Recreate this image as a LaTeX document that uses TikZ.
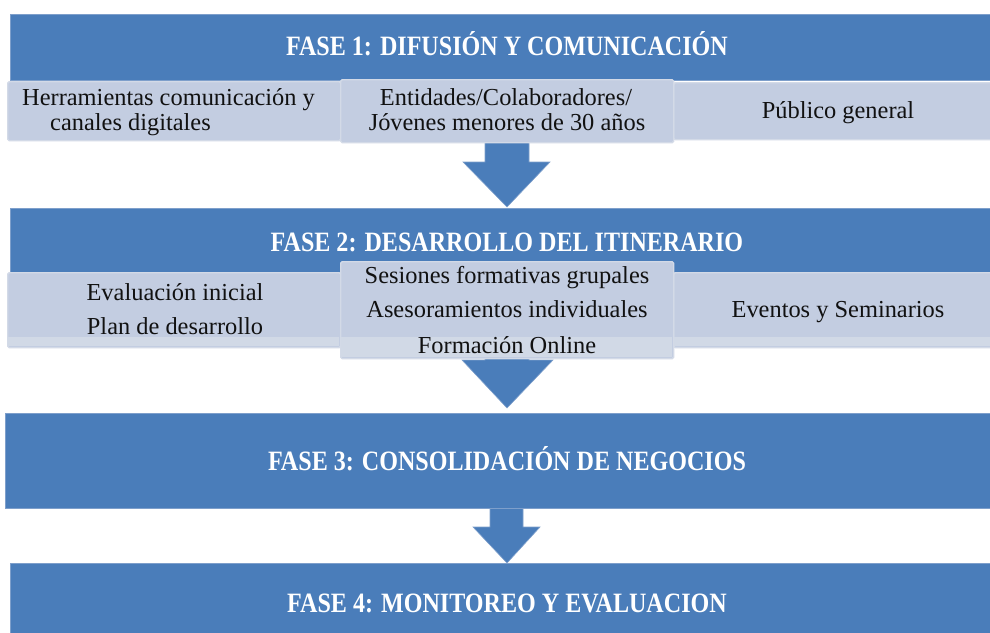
\documentclass[tikz,border=0pt]{standalone}
\usepackage{fontspec}
\setmainfont{Liberation Serif}
\newfontfamily\titlefont[FakeStretch=0.86]{Liberation Serif}
\definecolor{phaseblue}{HTML}{4A7DBA}
\definecolor{phaseedge}{HTML}{7E9FCB}
\definecolor{subfill}{HTML}{C3CDE1}
\definecolor{subedge}{HTML}{D3DAE7}
\definecolor{subband}{HTML}{D1D9E6}
\definecolor{txtcol}{HTML}{111111}
\tikzset{
  phasebox/.style={fill=phaseblue, draw=phaseedge, line width=0.8pt, inner sep=0pt, anchor=north west},
  subbox/.style={fill=subfill, draw=subedge, line width=1.4pt, rounded corners=1.5pt, inner sep=0pt, anchor=north west},
  bandbox/.style={fill=subband, draw=none, inner sep=0pt, anchor=north west},
  blockarrow/.style={fill=phaseblue, draw=phaseedge, line width=0.6pt},
  titletxt/.style={font=\titlefont\bfseries\fontsize{28}{28}\selectfont, text=white, inner sep=0pt, anchor=base},
  bodytxt/.style={font=\fontsize{24.4}{24}\selectfont, text=txtcol, inner sep=0pt, anchor=base}
}
\begin{document}
\begin{tikzpicture}[x=1pt,y=-1pt]
\useasboundingbox (0,0) rectangle (990,632);
\fill[white] (0,0) rectangle (990,632);

% arrows (drawn first, under the boxes)
\fill[blockarrow] (485,130) -- (485,162) -- (463,162) -- (507,207) -- (550,162) -- (529,162) -- (529,130) -- cycle;
\fill[blockarrow] (485,340) -- (485,360) -- (462,360) -- (507,408) -- (553,360) -- (529,360) -- (529,340) -- cycle;
\fill[blockarrow] (490,500) -- (490,527) -- (473,527) -- (507,563) -- (540,527) -- (523,527) -- (523,500) -- cycle;

% phase boxes
\node[phasebox, minimum width=981pt, minimum height=66pt] (p1) at (10,14) {};
\node[phasebox, minimum width=981pt, minimum height=64pt] (p2) at (10,208) {};
\node[phasebox, minimum width=986pt, minimum height=95pt] (p3) at (5,413) {};
\node[phasebox, minimum width=981pt, minimum height=70pt] (p4) at (10,563) {};

% sub boxes phase 1
\node[subbox, minimum width=333pt, minimum height=59pt] (s11) at (7,81) {};
\node[subbox, minimum width=318pt, minimum height=57pt] (s13) at (673,82) {};
\node[subbox, minimum width=333pt, minimum height=63pt] (s12) at (340,79) {};

% sub boxes phase 2
\node[subbox, minimum width=333pt, minimum height=75pt] (s21) at (7,272) {};
\node[bandbox, minimum width=331pt, minimum height=9pt] (b21) at (8,337) {};
\node[subbox, minimum width=318pt, minimum height=75pt] (s23) at (673,272) {};
\node[bandbox, minimum width=316pt, minimum height=9pt] (b23) at (674,337) {};
\node[subbox, minimum width=333pt, minimum height=97pt] (s22) at (340,261) {};
\node[bandbox, minimum width=331pt, minimum height=20pt] (b22) at (341,337) {};

% titles
\node[titletxt] (t1) at (507,55) {FASE 1: DIFUSIÓN Y COMUNICACIÓN};
\node[titletxt] (t2) at (507,251) {FASE 2: DESARROLLO DEL ITINERARIO};
\node[titletxt] (t3) at (507,470) {FASE 3: CONSOLIDACIÓN DE NEGOCIOS};
\node[titletxt] (t4) at (507,612) {FASE 4: MONITOREO Y EVALUACION};

% phase 1 texts
\node[bodytxt, anchor=base west] (a1) at (22,105) {Herramientas comunicación y};
\node[bodytxt, anchor=base west] (a2) at (50,130) {canales digitales};
\node[bodytxt] (a3) at (506,105) {Entidades/Colaboradores/};
\node[bodytxt] (a4) at (507,130) {Jóvenes menores de 30 años};
\node[bodytxt] (a5) at (838,118) {Público general};

% phase 2 texts
\node[bodytxt] (c1) at (175,300) {Evaluación inicial};
\node[bodytxt] (c2) at (175,334) {Plan de desarrollo};
\node[bodytxt] (c3) at (507,283) {Sesiones formativas grupales};
\node[bodytxt] (c4) at (507,317) {Asesoramientos individuales};
\node[bodytxt] (c5) at (507,353) {Formación Online};
\node[bodytxt] (c6) at (838,317) {Eventos y Seminarios};
\end{tikzpicture}
\end{document}
